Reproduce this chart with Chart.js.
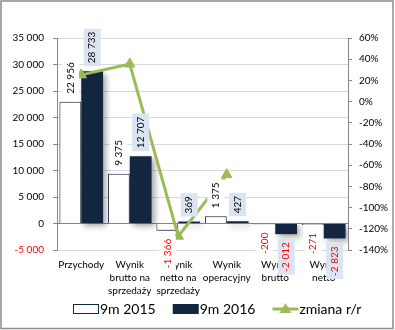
<!DOCTYPE html>
<html><head><meta charset="utf-8">
<script src="https://cdn.jsdelivr.net/npm/chart.js@4/dist/chart.umd.min.js"></script>
<style>html,body{margin:0;padding:0;background:#fff}#wrap{width:395px;height:330px;position:relative}</style>
</head><body><div id="wrap"><canvas id="c" width="395" height="330"></canvas></div>
<script>
const categories = ['Przychody', ['Wynik','brutto na','sprzedaży'], ['Wynik','netto na','sprzedaży'], ['Wynik','operacyjny'], ['Wynik','brutto'], ['Wynik','netto']];
const seriesNames = ['9m 2015', '9m 2016', 'zmiana r/r'];
const values2015 = [22956, 9375, -1366, 1375, -200, -271];
const values2016 = [28733, 12707, 369, 427, -2012, -2823];
const changeYoY = [25.2, 35.5, -127.0, -68.9, null, null];

const NAVY = '#13263f', GREEN = '#9bbb59', FONT = 'Lato';
const fmt = v => String(v).replace(/\B(?=(\d{3})+(?!\d))/g, ' ');

function mk(draw){ const c=document.createElement('canvas'); c.width=45; c.height=14; draw(c.getContext('2d')); return c; }
const mark2015 = mk(x=>{ x.fillStyle='#fff'; x.fillRect(18,2,26,10); x.strokeStyle=NAVY; x.lineWidth=1; x.strokeRect(18.5,2.5,25,9); });
const mark2016 = mk(x=>{ x.fillStyle=NAVY; x.fillRect(18,2,26,10); });
const markLine = mk(x=>{ x.strokeStyle=GREEN; x.lineWidth=3; x.beginPath(); x.moveTo(18,7); x.lineTo(44,7); x.stroke();
  x.fillStyle=GREEN; x.beginPath(); x.moveTo(31,1); x.lineTo(37,11); x.lineTo(25,11); x.closePath(); x.fill(); });

const shadow = {
  id:'shadow',
  beforeDatasetDraw(chart,args){ if(args.meta.type==='bar'){ const c=chart.ctx; c.save(); c.shadowColor='rgba(0,0,0,0.35)'; c.shadowBlur=6; c.shadowOffsetX=3; c.shadowOffsetY=3; } },
  afterDatasetDraw(chart,args){ if(args.meta.type==='bar'){ chart.ctx.restore(); } }
};
const valueLabels = {
  id:'valueLabels',
  afterDatasetsDraw(chart){
    const ctx = chart.ctx, bgs = ['#ffffff','#dbe5f1'];
    [0,1].forEach(di=>{
      const meta = chart.getDatasetMeta(di), data = chart.data.datasets[di].data;
      meta.data.forEach((el,i)=>{
        const v = data[i], txt = fmt(v);
        ctx.save();
        ctx.font = '10px ' + FONT;
        const tw = ctx.measureText(txt).width, gap = 5, pad = 3, bw = 17, len = tw + 2*pad;
        const neg = v < 0;
        const base = neg ? el.y + gap : el.y - gap;
        const y0 = neg ? base : base - len;
        ctx.fillStyle = bgs[di];
        ctx.fillRect(el.x - bw/2, y0, bw, len);
        ctx.translate(el.x, neg ? base + pad : base - pad);
        ctx.rotate(-Math.PI/2);
        ctx.textAlign = neg ? 'right' : 'left';
        ctx.textBaseline = 'middle';
        ctx.fillStyle = neg ? '#ff0000' : '#000000';
        ctx.fillText(txt, 0, 0);
        ctx.restore();
      });
    });
  }
};
const legendShift = {
  id:'legendShift',
  afterLayout(chart){ if(chart.legend){ chart.legend.left = 56; } }
};
const frame = {
  id:'frame',
  beforeDraw(chart){ const c=chart.ctx; c.save(); c.fillStyle='#fff'; c.fillRect(0,0,chart.width,chart.height); c.restore(); },
  afterDraw(chart){ const c=chart.ctx; c.save(); c.strokeStyle='#8c8c8c'; c.lineWidth=1.5; c.strokeRect(1,1,392,327.5); c.restore(); }
};

new Chart(document.getElementById('c'), {
  data: {
    labels: categories,
    datasets: [
      { type:'bar', label:seriesNames[0], data:values2015, backgroundColor:'#ffffff', borderColor:NAVY, borderWidth:1, yAxisID:'y', order:2, categoryPercentage:0.9, barPercentage:1.0 },
      { type:'bar', label:seriesNames[1], data:values2016, backgroundColor:NAVY, borderWidth:0, yAxisID:'y', order:2, categoryPercentage:0.9, barPercentage:1.0 },
      { type:'line', label:seriesNames[2], data:changeYoY, borderColor:GREEN, backgroundColor:GREEN, borderWidth:3, pointStyle:'triangle', pointRadius:6, pointBorderWidth:1, pointBackgroundColor:GREEN, pointBorderColor:GREEN, yAxisID:'y1', order:1, spanGaps:false, tension:0 }
    ]
  },
  options: {
    responsive:false, animation:false, devicePixelRatio:1,
    layout:{ padding:{ left:0, right:0, top:38, bottom:4 } },
    plugins:{
      tooltip:{enabled:false},
      legend:{
        position:'bottom', align:'start',
        labels:{
          usePointStyle:true, pointStyleWidth:31, padding:6,
          font:{ family:FONT, size:14 }, color:'#000',
          generateLabels: () => [
            { text:seriesNames[0], pointStyle:mark2015, fillStyle:'#fff', strokeStyle:NAVY, lineWidth:0, hidden:false, datasetIndex:0, fontColor:'#000' },
            { text:seriesNames[1], pointStyle:mark2016, fillStyle:NAVY, strokeStyle:NAVY, lineWidth:0, hidden:false, datasetIndex:1, fontColor:'#000' },
            { text:seriesNames[2], pointStyle:markLine, fillStyle:GREEN, strokeStyle:GREEN, lineWidth:0, hidden:false, datasetIndex:2, fontColor:'#000' }
          ]
        }
      }
    },
    scales:{
      x:{
        grid:{ display:false, drawTicks:false }, border:{ display:false },
        ticks:{ font:{ family:FONT, size:10, lineHeight:1.3 }, color:'#000', padding:8, maxRotation:0, autoSkip:false },
        afterFit(s){ s.height = 46; }
      },
      y:{
        position:'left', min:-5000, max:35000,
        ticks:{ stepSize:5000, font:{ family:FONT, size:10 }, padding:9, color:c=> c.tick && c.tick.value<0 ? '#ff0000' : '#000', callback:v=>fmt(v) },
        grid:{ color:c=> c.tick && c.tick.value===0 ? '#868686' : '#d9d9d9', tickColor:'#868686', tickLength:4 },
        border:{ color:'#868686' },
        afterFit(s){ s.width = 57; }
      },
      y1:{
        position:'right', min:-140, max:60,
        ticks:{ stepSize:20, font:{ family:FONT, size:10 }, padding:7, color:'#000', callback:v=>v+'%' },
        grid:{ drawOnChartArea:false, tickColor:'#868686', tickLength:4, color:'#868686' },
        border:{ color:'#868686' },
        afterFit(s){ s.width = 47; }
      }
    }
  },
  plugins:[shadow, valueLabels, legendShift, frame]
});
</script>
</body></html>
